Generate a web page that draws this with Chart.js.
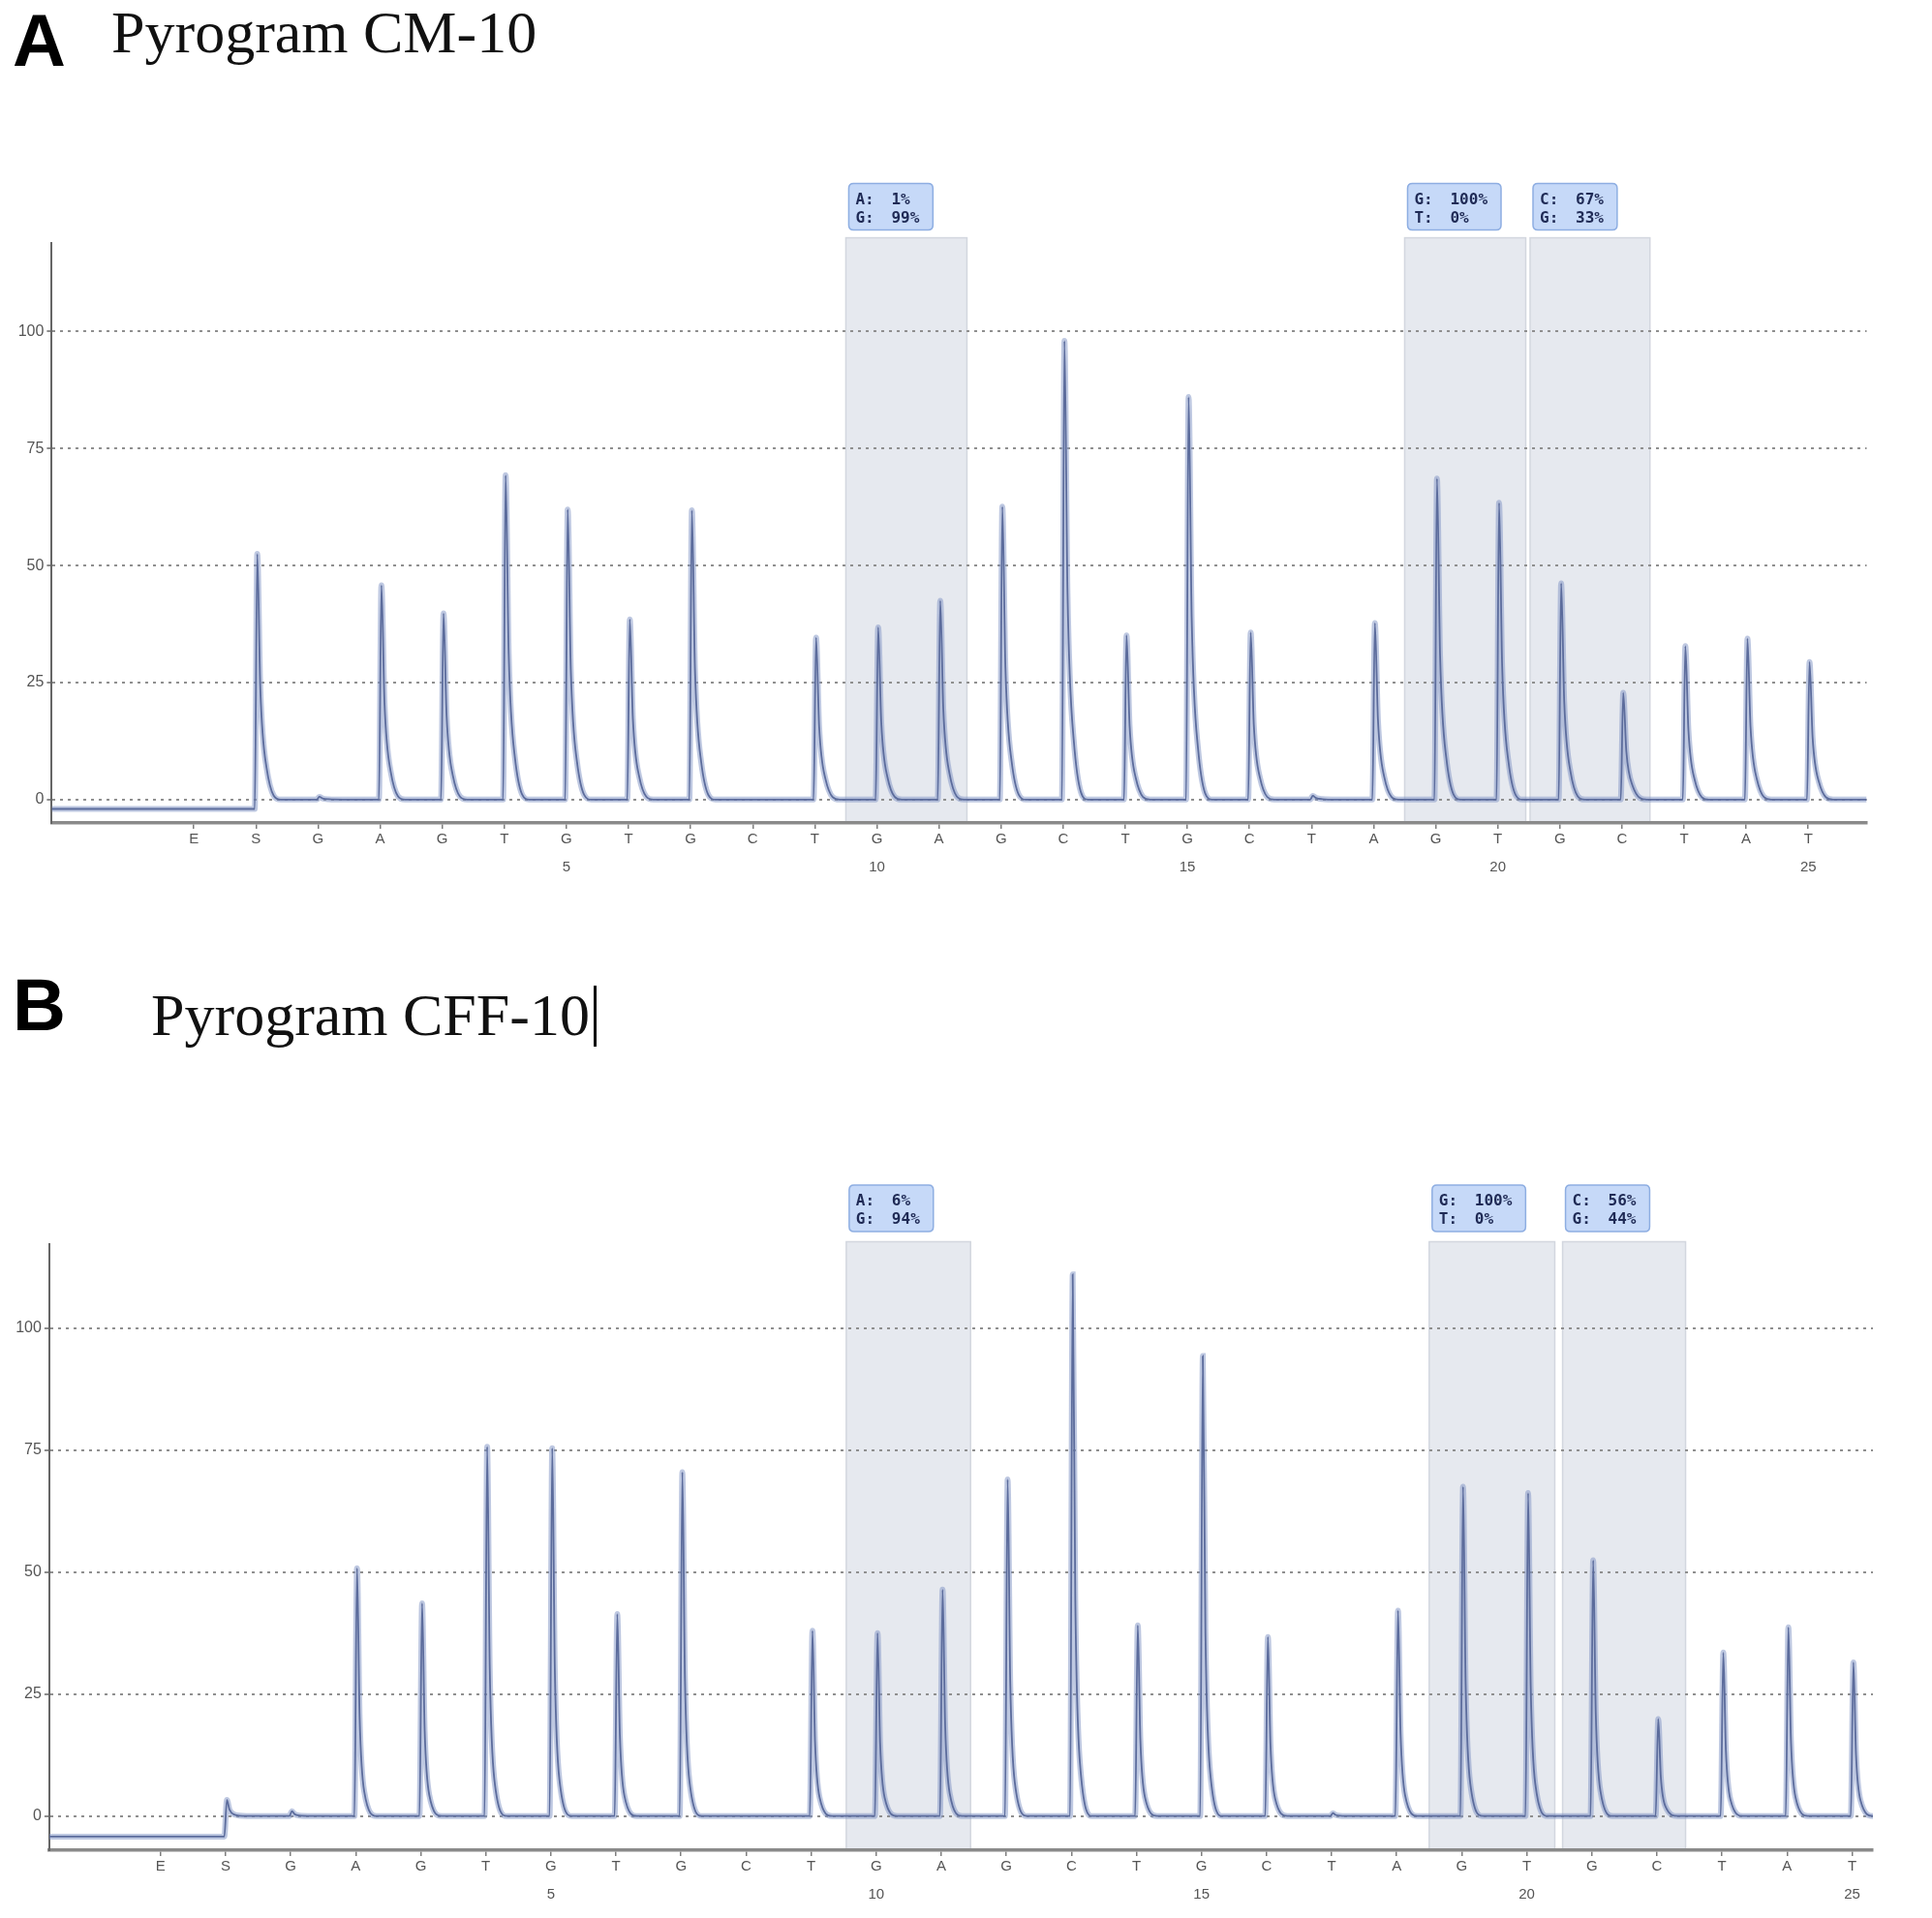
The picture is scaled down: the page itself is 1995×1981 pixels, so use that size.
<!DOCTYPE html>
<html>
<head>
<meta charset="utf-8">
<script src="https://cdn.jsdelivr.net/npm/chart.js@4.4.1/dist/chart.umd.min.js"></script>
<style>
  html, body { margin: 0; padding: 0; background: #fff; }
  body { position: relative; width: 1995px; height: 1981px; overflow: hidden; }
  .panel-letter { position: absolute; font-family: "Liberation Sans", Arial, sans-serif; font-weight: bold; font-size: 76px; line-height: 1; color: #000; }
  .title { position: absolute; font-family: "Liberation Serif", "Times New Roman", serif; font-size: 62px; line-height: 1; color: #111; white-space: nowrap; }
  .cursor { display: inline-block; width: 3px; height: 63px; background: #000; vertical-align: -12px; margin-left: 4px; }
  .chart-box { position: absolute; left: 0; width: 1995px; }
</style>
</head>
<body>
<div class="panel-letter" style="left:13px; top:4px;">A</div>
<div class="title" style="left:115px; top:2px;">Pyrogram CM-10</div>
<div class="chart-box" style="top:150px; height:770px;"><canvas id="pyroA"></canvas></div>

<div class="panel-letter" style="left:13px; top:1000px;">B</div>
<div class="title" style="left:156px; top:1017px;">Pyrogram CFF-10<span class="cursor"></span></div>
<div class="chart-box" style="top:1180px; height:801px;"><canvas id="pyroB"></canvas></div>

<script>
// dispensation order, E and S first, then numbered 1..25
const DISPENSATION = ["E", "S", "G", "A", "G", "T", "G", "T", "G", "C", "T", "G", "A", "G", "C", "T", "G", "C", "T", "A", "G", "T", "G", "C", "T", "A", "T"]
const Y_TICKS = [0, 25, 50, 75, 100]

// peak heights per dispensation
const PEAKS_A = [-2, 52.5, 0.6, 45.8, 39.8, 69.3, 62.0, 38.5, 61.8, 0, 34.6, 36.8, 42.5, 62.6, 98.0, 35.1, 86.0, 35.7, 0.8, 37.7, 68.6, 63.4, 46.2, 22.8, 32.8, 34.4, 29.4]
const PEAKS_B = [-4.2, 3.3, 1.0, 50.8, 43.6, 75.7, 75.4, 41.4, 70.5, 0, 38.0, 37.5, 46.4, 69.0, 111.0, 39.1, 94.3, 36.7, 0.6, 42.1, 67.5, 66.2, 52.4, 19.9, 33.5, 38.7, 31.5]
// signal level before the substrate is dispensed
const START_LEVEL_A = -2
const START_LEVEL_B = -4.2

// analysed positions (shaded) and their allele calls
const REGIONS_A = [[9.5, 11.45], [18.5, 20.45], [20.52, 22.45]]
const CALLS_A = [[["A:", "1%"], ["G:", "99%"]], [["G:", "100%"], ["T:", "0%"]], [["C:", "67%"], ["G:", "33%"]]]
const REGIONS_B = [[9.54, 11.45], [18.5, 20.43], [20.55, 22.44]]
const CALLS_B = [[["A:", "6%"], ["G:", "94%"]], [["G:", "100%"], ["T:", "0%"]], [["C:", "56%"], ["G:", "44%"]]]

// peak tail shape: [x offset, fraction of peak height]
const TAIL_A = [[0.05, 0.45], [0.15, 0.13], [0.38, 0]]
const TAIL_B = [[0.04, 0.4], [0.11, 0.1], [0.3, 0]]

function buildTrace(peaks, startLevel, xMin, xMax, tail) {
  const pts = [{ x: xMin, y: startLevel }]
  peaks.forEach((h, i) => {
    const x = i - 1
    const before = i <= 1 ? startLevel : 0
    const after = i < 1 ? startLevel : 0
    pts.push({ x: x - 0.02, y: before })
    pts.push({ x: x + 0.02, y: h })
    tail.forEach(([dx, f]) => pts.push({ x: x + 0.02 + dx, y: after + (h - after) * f }))
  })
  pts.push({ x: xMax, y: 0 })
  return pts
}

function roundRect(ctx, x, y, w, h, r) {
  ctx.beginPath()
  ctx.moveTo(x + r, y)
  ctx.lineTo(x + w - r, y)
  ctx.quadraticCurveTo(x + w, y, x + w, y + r)
  ctx.lineTo(x + w, y + h - r)
  ctx.quadraticCurveTo(x + w, y + h, x + w - r, y + h)
  ctx.lineTo(x + r, y + h)
  ctx.quadraticCurveTo(x, y + h, x, y + h - r)
  ctx.lineTo(x, y + r)
  ctx.quadraticCurveTo(x, y, x + r, y)
  ctx.closePath()
}

const regionsPlugin = {
  id: "regions",
  beforeDraw(chart, args, opts) {
    const { ctx, chartArea, scales } = chart
    ctx.save()
    opts.regions.forEach(([a, b]) => {
      const x1 = scales.x.getPixelForValue(a)
      const x2 = scales.x.getPixelForValue(b)
      const top = chartArea.top - opts.rise
      ctx.fillStyle = "#e6e9ef"
      ctx.fillRect(x1, top, x2 - x1, chartArea.bottom - top)
      ctx.strokeStyle = "#d3d7df"
      ctx.lineWidth = 1.5
      ctx.strokeRect(x1, top, x2 - x1, chartArea.bottom - top)
    })
    ctx.restore()
  },
  afterDraw(chart, args, opts) {
    const { ctx, chartArea, scales } = chart
    ctx.save()
    ctx.font = "bold 16px 'DejaVu Sans Mono', monospace"
    opts.regions.forEach(([a], k) => {
      const lines = opts.calls[k]
      const left = scales.x.getPixelForValue(a) + 3
      const w = 44 + Math.max(...lines.map(l => ctx.measureText(l[1]).width)) + 14
      const h = 48
      const top = chartArea.top - opts.gap - h
      roundRect(ctx, left, top, w, h, 5)
      ctx.fillStyle = "#c6d9f8"
      ctx.fill()
      ctx.strokeStyle = "#8eaee2"
      ctx.lineWidth = 1.5
      ctx.stroke()
      ctx.fillStyle = "#1f2a55"
      lines.forEach((l, j) => {
        ctx.fillText(l[0], left + 7, top + 21 + j * 19)
        ctx.fillText(l[1], left + 44, top + 21 + j * 19)
      })
    })
    ctx.restore()
  },
}

function makePyrogram(id, cfg) {
  const el = document.getElementById(id)
  if (!el) return
  const trace = buildTrace(cfg.peaks, cfg.start, cfg.xMin, cfg.xMax, cfg.tail)
  new Chart(el, {
    type: "line",
    data: {
      datasets: [
        {
          data: trace,
          borderColor: "rgba(125, 145, 195, 0.5)",
          borderWidth: 6,
          pointRadius: 0,
          cubicInterpolationMode: "monotone",
        },
        {
          data: trace,
          borderColor: "#3a4675",
          borderWidth: 1.8,
          pointRadius: 0,
          cubicInterpolationMode: "monotone",
        },
      ],
    },
    options: {
      responsive: true,
      maintainAspectRatio: false,
      animation: false,
      devicePixelRatio: 1,
      layout: { padding: { left: 0, right: cfg.padRight, top: cfg.padTop, bottom: 0 } },
      plugins: {
        legend: { display: false },
        tooltip: { enabled: false },
        regions: { regions: cfg.regions, calls: cfg.calls, rise: cfg.rise, gap: cfg.gap },
      },
      scales: {
        x: {
          type: "linear",
          min: cfg.xMin,
          max: cfg.xMax,
          afterBuildTicks: (s) => {
            s.ticks = DISPENSATION.map((d, i) => ({ value: i - 1 }))
          },
          afterFit: (s) => {
            s.height = 70
          },
          grid: { drawOnChartArea: false, drawTicks: true, tickLength: 6, color: "#7e7e7e", lineWidth: 1.5 },
          border: { color: "#8a8a8a", width: 3.5 },
          ticks: {
            autoSkip: false,
            maxRotation: 0,
            padding: -4,
            color: "#555",
            font: { size: 15, lineHeight: 1.95 },
            callback: (v) => {
              const n = Math.round(v)
              const letter = DISPENSATION[n + 1]
              return n > 0 && n % 5 === 0 ? [letter, String(n)] : letter
            },
          },
        },
        y: {
          min: cfg.yMin,
          max: cfg.yMax,
          afterBuildTicks: (s) => {
            s.ticks = Y_TICKS.map((v) => ({ value: v }))
          },
          afterFit: (s) => {
            s.width = cfg.yWidth
          },
          grid: { color: "#8f8f8f", lineWidth: 2, drawTicks: true, tickLength: 5, tickColor: "#666", tickWidth: 1.5 },
          border: { color: "#666", width: 2, dash: [3, 5] },
          ticks: { color: "#555", font: { size: 16 }, padding: 3 },
        },
      },
    },
    plugins: [regionsPlugin],
  })
}

document.addEventListener("DOMContentLoaded", () => {
  makePyrogram("pyroA", {
    peaks: PEAKS_A, start: START_LEVEL_A, tail: TAIL_A,
    regions: REGIONS_A, calls: CALLS_A,
    xMin: -3.29, xMax: 25.94, yMin: -5, yMax: 119,
    yWidth: 53.4, padRight: 67.5, padTop: 100.6, rise: 5, gap: 13,
  })
  makePyrogram("pyroB", {
    peaks: PEAKS_B, start: START_LEVEL_B, tail: TAIL_B,
    regions: REGIONS_B, calls: CALLS_B,
    xMin: -2.71, xMax: 25.32, yMin: -7, yMax: 117.2,
    yWidth: 50.9, padRight: 61, padTop: 105, rise: 2.5, gap: 13,
  })
})
</script>
</body>
</html>
